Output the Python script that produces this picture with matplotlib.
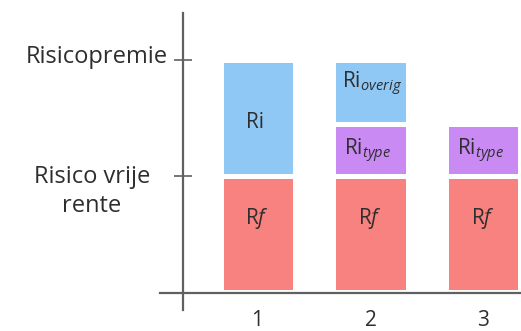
import matplotlib
matplotlib.use("Agg")
import matplotlib.pyplot as plt

plt.rcParams["font.family"] = ["Open Sans", "DejaVu Sans"]
plt.rcParams["mathtext.fontset"] = "custom"
plt.rcParams["mathtext.rm"] = "Open Sans"
plt.rcParams["mathtext.it"] = "Open Sans:italic"
plt.rcParams["mathtext.bf"] = "Open Sans:bold"

# Return build-up per case (risk-free rate = 1 unit)
cases = ["1", "2", "3"]
rf = [1.0, 1.0, 1.0]
ri_total = [1.0, 0.0, 0.0]
ri_type = [0.0, 0.45, 0.45]
ri_overig = [0.0, 0.55, 0.0]
y_levels = [1.0, 2.0]
y_labels = ["Risico vrije\nrente", "Risicopremie"]

c_red = "#f8827f"
c_blue = "#8fc8f4"
c_purple = "#c98af4"
c_text = "#2e2e2e"
c_axis = "#606060"

fig = plt.figure(figsize=(5.21, 3.31), dpi=100)
ax = fig.add_axes([0, 0, 1, 1])
ax.set_xlim(-1.279, 3.332)
ax.set_ylim(-0.336, 2.517)

x = [1, 2, 3]
w = 0.655
kw = dict(width=w, edgecolor="white", linewidth=3.6)

ax.bar(x, rf, color=c_red, **kw)
ax.bar(x, ri_total, bottom=rf, color=c_blue, **kw)
ax.bar(x, ri_type, bottom=rf, color=c_purple, **kw)
bott = [a + b for a, b in zip(rf, ri_type)]
ax.bar(x, ri_overig, bottom=bott, color=c_blue, **kw)

# Segment labels
fs = 15
for xi, r in zip(x, rf):
    ax.text(xi, r * 0.586, r"R$\mathit{f}$", ha="center", va="baseline",
            fontsize=fs, color=c_text)
for xi, b, h in zip(x, rf, ri_total):
    if h > 0:
        ax.text(xi - 0.02, b + h * 0.414, "Ri", ha="center", va="baseline",
                fontsize=fs, color=c_text)
for xi, b, h in zip(x, rf, ri_type):
    if h > 0:
        ax.text(xi - 0.03, b + h * 0.40, r"Ri$_{\mathit{type}}$", ha="center",
                va="baseline", fontsize=fs, color=c_text)
for xi, b, h in zip(x, bott, ri_overig):
    if h > 0:
        ax.text(xi + 0.01, b + h * 0.56, r"Ri$_{\mathit{overig}}$",
                ha="center", va="baseline", fontsize=fs, color=c_text)

# Axes lines
for s in ["top", "right"]:
    ax.spines[s].set_visible(False)
ax.spines["left"].set_position(("data", 0.341))
ax.spines["left"].set_bounds(-0.155, 2.405)
ax.spines["bottom"].set_position(("data", -0.012))
ax.spines["bottom"].set_bounds(0.137, 3.332)
for s in ["left", "bottom"]:
    ax.spines[s].set_color(c_axis)
    ax.spines[s].set_linewidth(1.6)

ax.set_yticks(y_levels)
ax.set_yticklabels([])
ax.tick_params(axis="y", direction="inout", length=13, width=1.2,
               color=c_axis)
ax.set_xticks(x)
ax.set_xticklabels(cases, fontsize=15, color=c_text)
ax.tick_params(axis="x", length=0, pad=12)

# Level labels on the y axis
ax.text(0.205, 1.974, y_labels[1], ha="right", va="baseline",
        fontsize=17, color=c_text)
ax.text(-0.465, 0.865, y_labels[0], ha="center", va="center",
        fontsize=17, color=c_text, multialignment="center", linespacing=1.25)

fig.savefig("out.png", dpi=100, facecolor="white")
